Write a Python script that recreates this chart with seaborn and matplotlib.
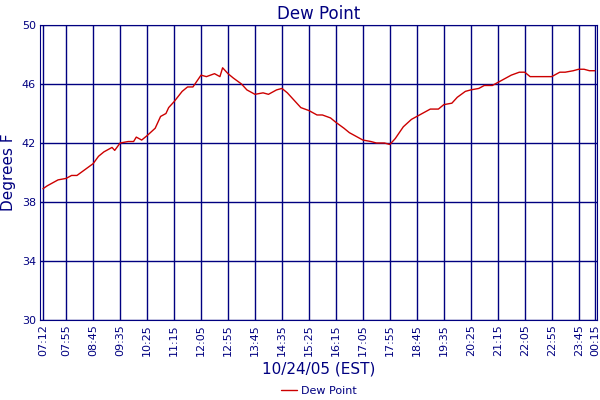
import matplotlib
matplotlib.use("Agg")
import matplotlib.pyplot as plt
import seaborn as sns
import pandas as pd

times = ["07:12","07:20","07:30","07:40","07:55","08:05","08:15","08:30","08:45","08:55","09:05","09:20","09:25","09:35",
         "09:50","10:00","10:05","10:15","10:25","10:40","10:50","11:00","11:05","11:15","11:30","11:40","11:50","12:05",
         "12:15","12:30","12:40","12:45","12:55","13:05","13:20","13:30","13:45","14:00","14:10","14:25","14:35","14:45",
         "15:00","15:10","15:25","15:40","15:50","16:05","16:15","16:30","16:40","16:55","17:05","17:20","17:30","17:45",
         "17:55","18:05","18:20","18:35","18:45","19:00","19:10","19:25","19:35","19:50","20:00","20:15","20:25","20:40",
         "20:50","21:05","21:15","21:30","21:40","21:55","22:05","22:15","22:30","22:45","22:55","23:10","23:20","23:35",
         "23:45","23:55","00:05","00:15"]
dew = [38.9,39.1,39.3,39.5,39.6,39.8,39.8,40.2,40.6,41.1,41.4,41.7,41.5,42.0,
       42.1,42.1,42.4,42.2,42.5,43.0,43.8,44.0,44.4,44.8,45.5,45.8,45.8,46.6,
       46.5,46.7,46.5,47.1,46.7,46.4,46.0,45.6,45.3,45.4,45.3,45.6,45.7,45.4,
       44.8,44.4,44.2,43.9,43.9,43.7,43.4,43.0,42.7,42.4,42.2,42.1,42.0,42.0,
       41.9,42.3,43.1,43.6,43.8,44.1,44.3,44.3,44.6,44.7,45.1,45.5,45.6,45.7,
       45.9,45.9,46.1,46.4,46.6,46.8,46.8,46.5,46.5,46.5,46.5,46.8,46.8,46.9,
       47.0,47.0,46.9,46.9]
tick_labels = ["07:12","07:55","08:45","09:35","10:25","11:15","12:05","12:55","13:45","14:35","15:25",
               "16:15","17:05","17:55","18:45","19:35","20:25","21:15","22:05","22:55","23:45","00:15"]
y_ticks = [30, 34, 38, 42, 46, 50]

def to_min(t):
    h, m = map(int, t.split(":"))
    if h < 7:
        h += 24
    return h * 60 + m

df = pd.DataFrame({"t": [to_min(t) for t in times], "Dew Point": dew})

sns.set_style("white")
navy = "#000080"
fig = plt.figure(figsize=(6, 4), dpi=100)
ax = fig.add_axes([40/600, 80/400, 557/600, 295/400])
sns.lineplot(data=df, x="t", y="Dew Point", ax=ax, color="#cc0000", linewidth=1, label="Dew Point")
ax.set_xlim(426.5, 1459)
ax.set_ylim(30, 50)
ax.set_xticks([to_min(t) for t in tick_labels])
ax.set_xticklabels(tick_labels, rotation=90, color=navy, fontsize=8)
ax.set_yticks(y_ticks)
ax.set_yticklabels([str(v) for v in y_ticks], color=navy, fontsize=8)
ax.grid(True, color=navy, linewidth=1)
for s in ax.spines.values():
    s.set_color(navy)
ax.tick_params(length=0, pad=3)
ax.set_xlabel("10/24/05 (EST)", color=navy, fontsize=11, labelpad=4)
ax.set_ylabel("Degrees F", color=navy, fontsize=11)
ax.set_title("Dew Point", color=navy, fontsize=12, pad=4)
ax.legend(loc="center", bbox_to_anchor=(0.5, -0.24), frameon=False, fontsize=8,
          labelcolor=navy, handlelength=1.5, handletextpad=0.3, borderpad=0.1)
fig.savefig("out.png", dpi=100)
